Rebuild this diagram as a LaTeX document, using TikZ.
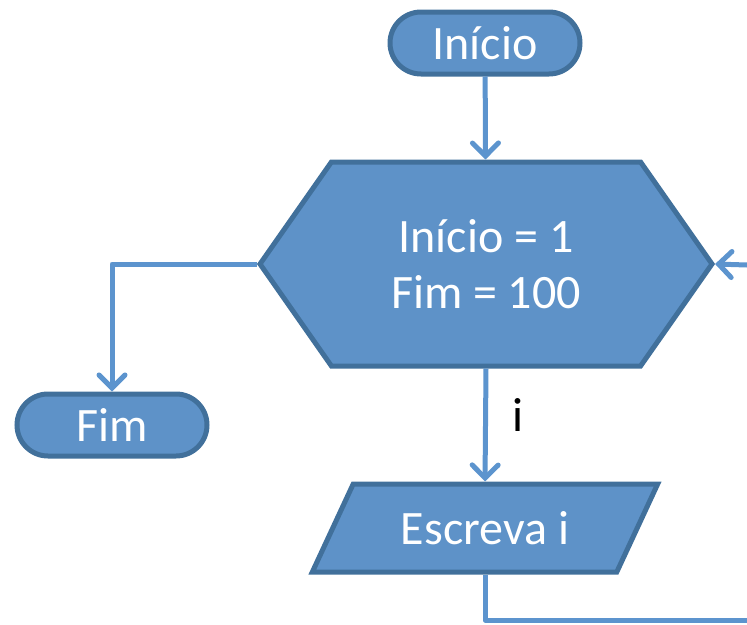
\documentclass[tikz,border=0pt]{standalone}
\usepackage{fontspec}
\setmainfont{Carlito}
\usetikzlibrary{shapes.misc,shapes.symbols,shapes.geometric,arrows.meta}
\definecolor{boxfill}{RGB}{94,146,200}
\definecolor{boxline}{RGB}{65,112,155}
\definecolor{flowline}{RGB}{92,148,206}
\begin{document}
\begin{tikzpicture}
            [x=1pt,y=-1pt,
             Box/.style={draw=boxline,fill=boxfill,line width=5pt,text=white,font=\fontsize{48}{56}\selectfont,inner sep=0pt},
             Term/.style={Box,rounded rectangle,minimum width=190pt,minimum height=62pt},
             Flow/.style={draw=flowline,line width=5pt,line join=round,-{Straight Barb[length=13pt,width=26pt,line cap=round]}}];
            \useasboundingbox (0,0) rectangle (747,624);
            \node[Term] (start) at (485,43){Início};
            \node[Box,signal,signal to=west and east,signal pointer angle=110,minimum width=452pt,minimum height=204pt,align=center] (hex) at (486,264){Início = 1\\Fim = 100};
            \node[Term] (fim) at (112,425){Fim};
            \node[Box,trapezium,trapezium left angle=52,trapezium right angle=128,trapezium stretches=true,minimum width=346pt,minimum height=88pt] (out) at (485,528){Escreva i};
            \coordinate (loopb) at (747,620);
            \coordinate (loopr) at (747,265);
            \draw [Flow](start) to (hex);
            \draw [Flow](hex.west) -| (fim.north);
            \draw [Flow](hex.south) to node[right=24pt,yshift=10pt,inner sep=0pt,font=\fontsize{48}{56}\selectfont]{i} (out.north);
            \draw [draw=flowline,line width=5pt,line join=round](out.south) |- (loopb);
            \draw [Flow](loopr) to (hex.east);
        \end{tikzpicture}
\end{document}
